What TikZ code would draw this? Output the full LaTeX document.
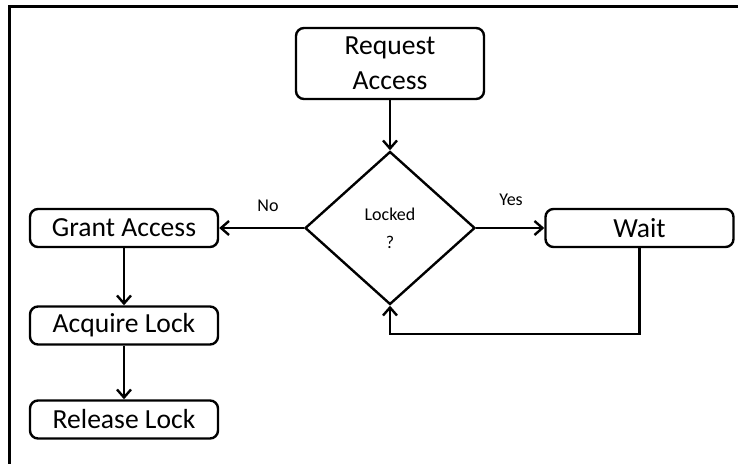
\documentclass[tikz,border=0pt]{standalone}
\usepackage{fontspec}
\setmainfont{Carlito}
\usetikzlibrary{shapes.geometric,arrows.meta}

\begin{document}
\begin{tikzpicture}
  [x=0.5pt,y=-0.5pt,line width=1.2pt,
   box/.style={draw,rounded corners=4pt,minimum width=94pt,minimum height=19pt,inner sep=0pt,align=center,font=\fontsize{13.8}{17.5}\selectfont},
   decision/.style={draw,diamond,minimum width=85pt,minimum height=76.5pt,inner sep=0pt,align=center,font=\fontsize{9}{14}\selectfont},
   lbl/.style={inner sep=0pt,font=\fontsize{9}{11}\selectfont},
   flow/.style={-{Straight Barb[length=4pt,width=7pt]}}]
  \useasboundingbox (0,0) rectangle (738,464);
  \draw[line width=1.5pt] (9,464) -- (9,7) -- (738,7);
  \node[box,minimum height=35.5pt] (req) at (390,63.5) {Request\\Access};
  \node[decision] (lock) at (390,228) {Locked\\?};
  \node[box] (grant) at (124,228) {Grant Access};
  \node[box] (acq) at (124,325.5) {Acquire Lock};
  \node[box] (rel) at (124,419.5) {Release Lock};
  \node[box] (wait) at (639.5,228) {Wait};
  \node[lbl] (no) at (268,206) {No};
  \node[lbl] (yes) at (511,200) {Yes};
  \coordinate (back) at (390,334);
  \foreach \from/\to in {req/lock,lock/grant,lock/wait,grant/acq,acq/rel}
    \draw[flow] (\from) -- (\to);
  \draw[flow] (wait.south) |- (back) -- (lock.south);
\end{tikzpicture}
\end{document}
